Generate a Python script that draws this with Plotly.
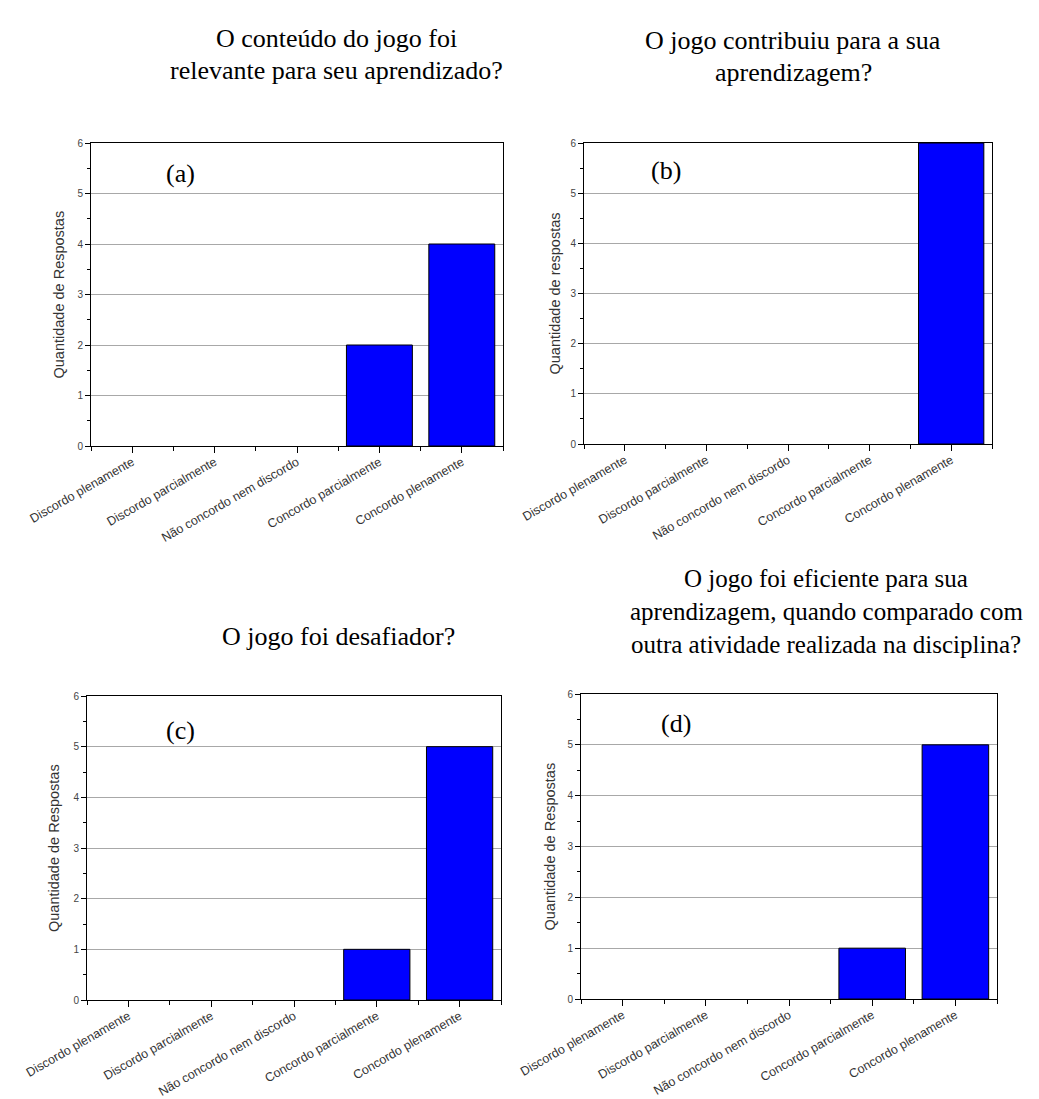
import plotly.graph_objects as go

W, H = 1039, 1099

categories = ["Discordo plenamente", "Discordo parcialmente", "Não concordo nem discordo",
              "Concordo parcialmente", "Concordo plenamente"]
values_a = [0, 0, 0, 2, 4]
values_b = [0, 0, 0, 0, 6]
values_c = [0, 0, 0, 1, 5]
values_d = [0, 0, 0, 1, 5]
series = [values_a, values_b, values_c, values_d]

titles = [
    ["O conteúdo do jogo foi", "relevante para seu aprendizado?"],
    ["O jogo contribuiu para a sua", "aprendizagem?"],
    ["O jogo foi desafiador?"],
    ["O jogo foi eficiente para sua", "aprendizagem, quando comparado com",
     "outra atividade realizada na disciplina?"],
]
panel_labels = ["(a)", "(b)", "(c)", "(d)"]
ytitles = ["Quantidade de Respostas", "Quantidade de respostas",
           "Quantidade de Respostas", "Quantidade de Respostas"]

# pixel boxes of plot areas: (left, right, top, bottom)
boxes = [(83, 495, 135, 438), (576, 984, 135, 436), (79, 493, 688, 992), (573, 989, 686, 991)]
# title layout: center x, first line center y, line step, font size
title_pos = [(328, 30, 32, 26), (785, 33, 31, 26), (330, 628, 33, 26), (818, 570, 33, 25)]
label_pos = [(172, 165), (658, 163), (172, 722), (668, 715)]
ytitle_x = [50, 547, 46, 541]

SERIF = "Liberation Serif, Times New Roman, serif"
SANS = "Liberation Sans, Arial, sans-serif"

def px(x):
    return x / W

def py(y):
    return 1 - y / H

fig = go.Figure()
xpos = list(range(len(categories)))

for i, vals in enumerate(series):
    n = "" if i == 0 else str(i + 1)
    l, r, t, b = boxes[i]
    fig.add_trace(go.Bar(x=xpos, y=vals, width=0.8,
                         marker=dict(color="#0000FF",
                                     line=dict(color="black",
                                               width=[1 if v > 0 else 0 for v in vals])),
                         xaxis="x" + n, yaxis="y" + n, showlegend=False))
    fig.layout["xaxis" + n] = dict(
        domain=[px(l), px(r)], anchor="y" + n, range=[-0.5, len(categories) - 0.5],
        tickvals=xpos, ticktext=categories, tickangle=-30, automargin=False,
        ticks="outside", ticklen=6, tickcolor="black", ticklabelstandoff=-3,
        minor=dict(tickvals=[k - 0.5 for k in range(len(categories) + 1)],
                   ticks="outside", ticklen=4, tickcolor="black"),
        showline=True, linecolor="black", linewidth=1, mirror=True,
        showgrid=False, zeroline=False,
        tickfont=dict(family=SANS, size=12.5, color="#333333"),
    )
    fig.layout["yaxis" + n] = dict(
        domain=[py(b), py(t)], anchor="x" + n, range=[0, 6], dtick=1, automargin=False,
        ticks="outside", ticklen=5, tickcolor="black",
        minor=dict(dtick=0.5, ticks="outside", ticklen=3, tickcolor="black", showgrid=False),
        showline=True, linecolor="black", linewidth=1, mirror=True,
        showgrid=True, gridcolor="#a8a8a8", gridwidth=1, zeroline=False,
        tickfont=dict(family=SANS, size=10, color="#444444"),
    )
    tx, ty, step, ts = title_pos[i]
    for k, line in enumerate(titles[i]):
        fig.add_annotation(text=line, x=px(tx), y=py(ty + k * step), xref="paper",
                           yref="paper", showarrow=False, xanchor="center", yanchor="middle",
                           font=dict(family=SERIF, size=ts, color="black"))
    lx, ly = label_pos[i]
    fig.add_annotation(text=panel_labels[i], x=px(lx), y=py(ly), xref="paper", yref="paper",
                       showarrow=False, xanchor="center", yanchor="middle",
                       font=dict(family=SERIF, size=26, color="black"))
    fig.add_annotation(text=ytitles[i], x=px(ytitle_x[i]), y=py((t + b) / 2), xref="paper",
                       yref="paper", showarrow=False, textangle=-90, xanchor="center",
                       yanchor="middle",
                       font=dict(family=SANS, size=14.5, color="#333333"))

fig.update_layout(width=W, height=H, margin=dict(l=0, r=0, t=0, b=0, autoexpand=False),
                  paper_bgcolor="white", plot_bgcolor="white", bargap=0.2)

fig.write_html("out.html")
